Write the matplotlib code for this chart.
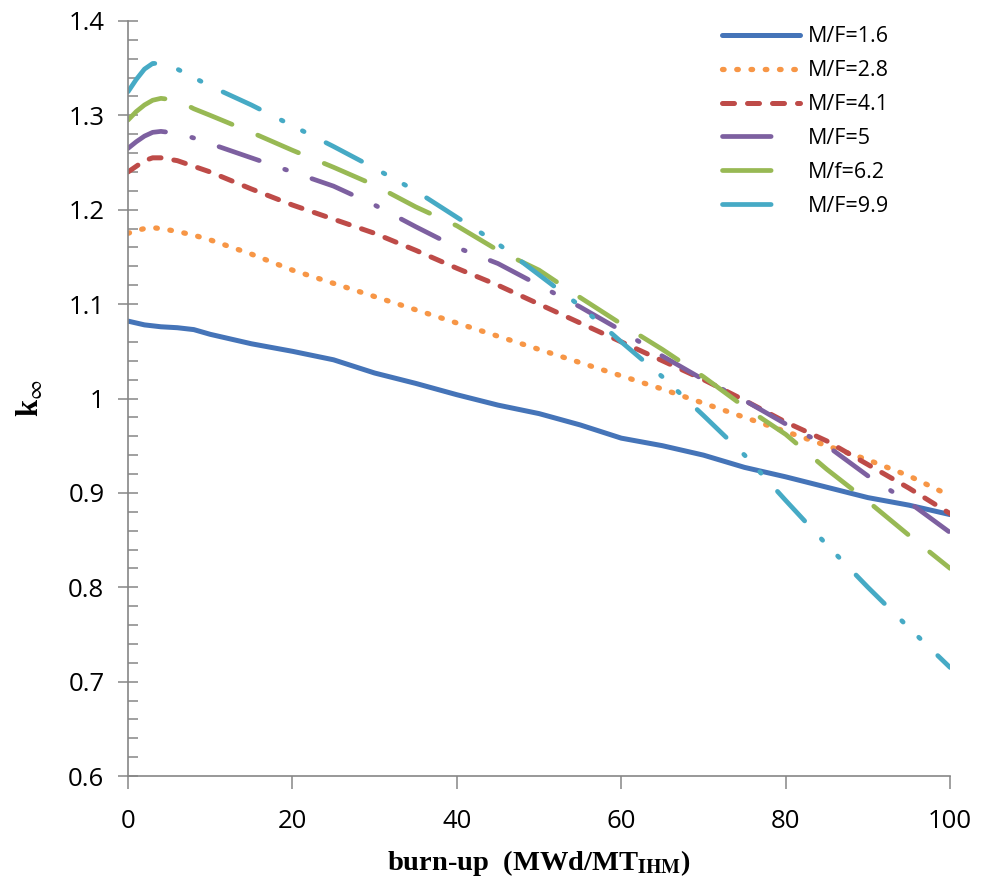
import numpy as np
import matplotlib
matplotlib.use('Agg')
import matplotlib.pyplot as plt
from matplotlib.lines import Line2D
from matplotlib.ticker import MultipleLocator

plt.rcParams['font.family'] = ['Open Sans', 'DejaVu Sans']
plt.rcParams['mathtext.fontset'] = 'stix'

# burn-up points (MWd/MT)
burnup = [0, 1, 2, 3, 4, 6, 8, 10, 15, 20, 25, 30, 35, 40, 45, 50, 55, 60, 65, 70, 75, 80, 85, 90, 95, 100]

k_16 = [1.082, 1.080, 1.078, 1.077, 1.076, 1.075, 1.073, 1.068, 1.058, 1.050, 1.041, 1.027, 1.016,
        1.004, 0.993, 0.984, 0.972, 0.958, 0.950, 0.940, 0.927, 0.917, 0.906, 0.895, 0.887, 0.877]
k_28 = [1.175, 1.178, 1.180, 1.181, 1.180, 1.177, 1.173, 1.168, 1.153, 1.136, 1.122, 1.108, 1.094,
        1.080, 1.066, 1.052, 1.038, 1.024, 1.010, 0.995, 0.980, 0.965, 0.950, 0.935, 0.918, 0.897]
k_41 = [1.240, 1.246, 1.252, 1.255, 1.255, 1.252, 1.246, 1.240, 1.222, 1.205, 1.190, 1.175, 1.157,
        1.138, 1.120, 1.100, 1.080, 1.060, 1.040, 1.020, 0.998, 0.975, 0.955, 0.930, 0.905, 0.878]
k_50 = [1.265, 1.272, 1.278, 1.282, 1.283, 1.281, 1.276, 1.270, 1.255, 1.240, 1.225, 1.205, 1.182,
        1.160, 1.143, 1.120, 1.097, 1.072, 1.045, 1.020, 0.998, 0.973, 0.950, 0.918, 0.890, 0.858]
k_62 = [1.295, 1.304, 1.311, 1.316, 1.318, 1.316, 1.307, 1.300, 1.282, 1.263, 1.245, 1.226, 1.203,
        1.183, 1.157, 1.136, 1.107, 1.079, 1.052, 1.023, 0.991, 0.962, 0.925, 0.891, 0.855, 0.820]
k_99 = [1.325, 1.338, 1.349, 1.355, 1.355, 1.349, 1.340, 1.331, 1.311, 1.289, 1.267, 1.244, 1.220,
        1.192, 1.164, 1.131, 1.098, 1.060, 1.023, 0.982, 0.940, 0.892, 0.845, 0.800, 0.757, 0.715]

labels = ['M/F=1.6', 'M/F=2.8', 'M/F=4.1', 'M/F=5', 'M/f=6.2', 'M/F=9.9']
series = [k_16, k_28, k_41, k_50, k_62, k_99]
colors = ['#4574B8', '#F79646', '#BE4B48', '#7D60A0', '#98B954', '#46AAC5']
widths = [3.6, 3.8, 3.6, 3.4, 3.4, 3.4]
styles = ['-',
          (0, (0.3, 2.4)),
          (0, (2.4, 2.6)),
          (0, (9, 5.7, 0.4, 5.7)),
          (0, (9.4, 5.9)),
          (0, (8.5, 5.2, 0.4, 4.6, 0.4, 5.2))]
# legend samples only show first dash for the long dash types
leg_styles = styles[:3] + [(0, (10.3, 30))] * 3

fig = plt.figure(figsize=(9.81, 8.92), dpi=100)
ax = fig.add_axes([0.1305, 0.130, 0.838, 0.8465])

for y, c, lw, ls in zip(series, colors, widths, styles):
    ax.plot(burnup, y, color=c, lw=lw, linestyle=ls,
            dash_capstyle='round', solid_capstyle='round')

handles = [Line2D([], [], color=c, lw=lw, linestyle=ls, dash_capstyle='round', solid_capstyle='round')
           for c, lw, ls in zip(colors, widths, leg_styles)]
ax.legend(handles, labels, loc='upper left', bbox_to_anchor=(0.7226, 0.993), frameon=False,
          borderaxespad=0, borderpad=0, fontsize=15.5, handlelength=3.6, handletextpad=0.37,
          labelspacing=0.6)

ax.set_xlim(0, 100)
ax.set_ylim(0.6, 1.4)
ax.set_xticks([0, 20, 40, 60, 80, 100])
ax.set_yticks([0.6, 0.7, 0.8, 0.9, 1.0, 1.1, 1.2, 1.3, 1.4])
ax.set_yticklabels(['0.6', '0.7', '0.8', '0.9', '1', '1.1', '1.2', '1.3', '1.4'])
ax.yaxis.set_minor_locator(MultipleLocator(0.02))

for s in ['top', 'right']:
    ax.spines[s].set_visible(False)
for s in ['left', 'bottom']:
    ax.spines[s].set_color('#868686')
    ax.spines[s].set_linewidth(1.2)

ax.tick_params(axis='y', which='major', direction='inout', length=14, width=1.1,
               color='#868686', labelsize=18.5, pad=10)
ax.tick_params(axis='y', which='minor', direction='in', length=7, width=1.1, color='#868686')
ax.tick_params(axis='x', which='major', direction='out', length=9, width=1.1,
               color='#868686', labelsize=18.5, pad=15)

ax.set_xlabel(r'burn-up  (MWd/MT$_{\mathbf{IHM}}$)', fontsize=20.5, fontweight='bold',
              family='Liberation Serif', labelpad=10)
ax.set_ylabel(r'k$_{\infty}$', fontsize=22, fontweight='bold', family='Liberation Serif', labelpad=16)

fig.savefig('out.png', dpi=100)
